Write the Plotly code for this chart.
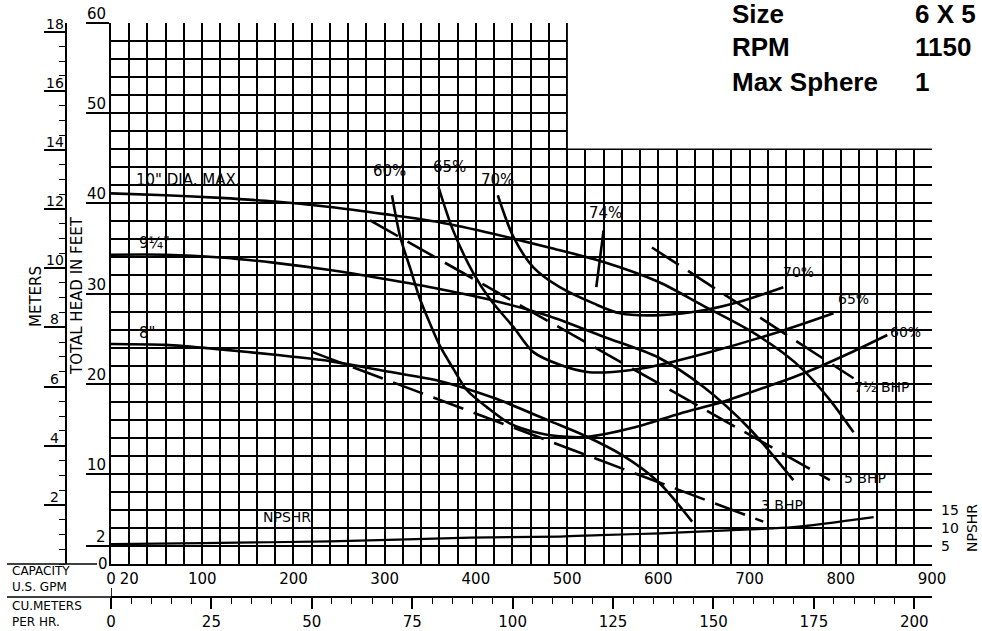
import plotly.graph_objects as go

W, H = 982, 631
FONT = "DejaVu Sans"
HEAD_FONT = "Liberation Sans, Arial"

# head-capacity curves: US GPM vs total head (ft)
gpm_10in = [0, 60, 120, 180, 240, 300, 360, 420, 480, 540, 600, 650, 700, 737, 759, 788, 814]
head_10in = [41.1, 40.9, 40.6, 40.2, 39.6, 38.8, 37.9, 36.6, 35.1, 33.5, 31.3, 28.6, 25.9, 23.4, 21.5, 18.2, 14.6]
gpm_9qin = [0, 60, 120, 180, 240, 300, 360, 420, 480, 540, 600, 650, 700, 748]
head_9qin = [34.3, 34.3, 34.0, 33.4, 32.6, 31.6, 30.5, 29.2, 27.5, 25.2, 22.9, 19.6, 15.0, 9.3]
gpm_8in = [0, 60, 120, 180, 240, 300, 360, 420, 480, 520, 560, 600, 637]
head_8in = [24.4, 24.3, 23.8, 23.2, 22.5, 21.4, 20.3, 18.4, 15.9, 14.2, 12.1, 9.1, 4.7]

# iso-efficiency curves
gpm_e60 = [308, 317, 328, 339, 350, 361, 375, 390, 412, 437, 470, 500, 522, 572, 624, 671, 720, 763, 810, 851]
head_e60 = [40.9, 36.3, 32.8, 29.3, 26.6, 24.1, 21.7, 19.3, 17.4, 15.6, 14.5, 14.1, 14.1, 15.1, 16.7, 18.0, 19.7, 21.3, 23.4, 25.4]
gpm_e65 = [359, 375, 397, 416, 441, 463, 492, 522, 550, 588, 653, 737, 792]
head_e65 = [41.8, 37.0, 32.3, 29.3, 26.3, 23.5, 22.1, 21.3, 21.3, 21.8, 23.4, 25.9, 27.8]
gpm_e70 = [424, 441, 463, 492, 529, 558, 602, 653, 690, 737]
head_e70 = [40.9, 36.3, 32.9, 30.7, 28.9, 27.8, 27.6, 28.2, 29.1, 30.7]
gpm_e74 = [532, 540]
head_e74 = [30.7, 37.0]

# brake horsepower lines (dashed)
gpm_bhp75 = [593, 814]
head_bhp75 = [35.1, 20.6]
gpm_bhp5 = [284, 788]
head_bhp5 = [38.1, 9.3]
gpm_bhp3 = [221, 715]
head_bhp3 = [23.5, 4.7]

# NPSHR (right-hand scale, ft)
gpm_npshr = [0, 100, 240, 394, 492, 536, 602, 638, 700, 748, 836]
npshr = [5.5, 5.8, 6.3, 7.3, 7.6, 8.0, 8.5, 8.9, 9.6, 10.2, 13.0]

# axis ticks
gpm_ticks = [0, 20, 100, 200, 300, 400, 500, 600, 700, 800, 900]
feet_ticks = [2, 10, 20, 30, 40, 50, 60]
meter_ticks = [2, 4, 6, 8, 10, 12, 14, 16, 18]
cum_ticks = [0, 25, 50, 75, 100, 125, 150, 175, 200]
npshr_ticks = [5, 10, 15]

FT_PER_M = 3.28084
GPM_PER_M3H = 4.40287


def px(x):
    return x / W


def py(y):
    return 1 - y / H


fig = go.Figure()


def curve(gpm, head, dash=None, width=2.6, yaxis="y"):
    fig.add_trace(go.Scatter(
        x=gpm, y=head, mode="lines", yaxis=yaxis, hoverinfo="skip", showlegend=False,
        line=dict(color="black", width=width, shape="spline", smoothing=0.8, dash=dash),
    ))


for g, h in [(gpm_10in, head_10in), (gpm_9qin, head_9qin), (gpm_8in, head_8in),
             (gpm_e60, head_e60), (gpm_e65, head_e65), (gpm_e70, head_e70), (gpm_e74, head_e74)]:
    curve(g, h)
for g, h in [(gpm_bhp75, head_bhp75), (gpm_bhp5, head_bhp5), (gpm_bhp3, head_bhp3)]:
    curve(g, h, dash="32px,11px")
curve(gpm_npshr, npshr, width=2.2, yaxis="y2")

# empty helpers so the secondary scales get drawn
fig.add_trace(go.Scatter(x=cum_ticks, y=[0] * len(cum_ticks), xaxis="x2", mode="none", showlegend=False, hoverinfo="skip"))
fig.add_trace(go.Scatter(x=[0], y=meter_ticks[:1], yaxis="y3", mode="none", showlegend=False, hoverinfo="skip"))

ann = []


def note(text, x, y, size=14, xref="x", yref="y", xanchor="left", yanchor="middle", family=FONT, **kw):
    ann.append(dict(text=text, x=x, y=y, xref=xref, yref=yref, xanchor=xanchor, yanchor=yanchor,
                    showarrow=False, font=dict(family=family, size=size, color="black"), **kw))


# curve labels
note('10" DIA. MAX.', 25, 42.6, 15)
note('9¼"', 28, 35.6, 15)
note('8"', 29, 25.6, 15)
note("NPSHR", 164, 5.2, 14)
note("60%", 285, 43.6, 15)
note("65%", 351, 44.0, 15)
note("70%", 403, 42.6, 15)
note("74%", 522, 38.9, 15)
note("70%", 735, 32.4, 14)
note("65%", 795, 29.4, 14)
note("60%", 852, 25.7, 14)
note("7½ BHP", 812, 19.6, 14)
note("5 BHP", 801, 9.5, 14)
note("3 BHP", 710, 6.5, 14)

# left feet labels (sit on their tick lines)
for v in feet_ticks:
    note(str(v), px(108), v, 15, xref="paper", xanchor="right", yanchor="bottom", yshift=-2)
note("0", px(103), 0, 15, xref="paper", xanchor="center")

# meter labels
for v in meter_ticks:
    note(str(v), px(54.5), v, 14, xref="paper", yref="y3", xanchor="center", yanchor="bottom", yshift=-2)

note("METERS", px(36), py(297), 15, xref="paper", yref="paper", xanchor="center", textangle=-90)
note("TOTAL HEAD IN FEET", px(77), py(296), 15, xref="paper", yref="paper", xanchor="center", textangle=-90)
note("NPSHR", px(972), py(528), 14, xref="paper", yref="paper", xanchor="center", textangle=-90)
note("CAPACITY<br>U.S. GPM", px(11), py(579), 12, xref="paper", yref="paper", align="left", borderpad=0)
note("CU.METERS<br>PER HR.", px(11), py(614), 12, xref="paper", yref="paper", align="left", borderpad=0)

# header block
for label, value, y in [("Size", "6 X 5", 14), ("RPM", "1150", 47), ("Max Sphere", "1", 82)]:
    note(f"<b>{label}</b>", px(730), py(y), 26, xref="paper", yref="paper", family=HEAD_FONT)
    note(f"<b>{value}</b>", px(913), py(y), 26, xref="paper", yref="paper", family=HEAD_FONT)

grid = dict(showgrid=True, gridcolor="black", gridwidth=1.5)
line = dict(showline=True, linecolor="black", linewidth=1.7)

fig.update_layout(
    width=W, height=H,
    margin=dict(l=0, r=0, t=0, b=0, autoexpand=False),
    paper_bgcolor="white", plot_bgcolor="white",
    showlegend=False,
    annotations=ann,
    xaxis=dict(
        domain=[px(111), px(932)], range=[0, 900], anchor="y",
        tickmode="array", tickvals=gpm_ticks, ticktext=[str(v) for v in gpm_ticks],
        ticks="", ticklabelstandoff=0,
        tickfont=dict(family=FONT, size=15, color="black"),
        minor=dict(dtick=20, tick0=0, showgrid=True, gridcolor="black", gridwidth=1.5, ticks=""),
        zeroline=False, **grid, **line,
    ),
    yaxis=dict(
        domain=[py(564), py(23)], range=[0, 60], anchor="x",
        tickmode="array", tickvals=feet_ticks, showticklabels=False,
        ticks="outside", ticklen=23, tickwidth=1.5, tickcolor="black",
        minor=dict(dtick=2, tick0=0, showgrid=True, gridcolor="black", gridwidth=1.5, ticks=""),
        zeroline=False, **grid, **line,
    ),
    yaxis2=dict(
        overlaying="y", side="right", anchor="x", range=[0, 150],
        tickmode="array", tickvals=npshr_ticks, ticktext=[str(v) for v in npshr_ticks],
        ticks="", ticklabelstandoff=8, showgrid=False, zeroline=False,
        tickfont=dict(family=FONT, size=14, color="black"),
    ),
    yaxis3=dict(
        overlaying="y", anchor="free", position=px(66), side="left",
        range=[0, 60 / FT_PER_M],
        tickmode="array", tickvals=meter_ticks, showticklabels=False,
        ticks="outside", ticklen=21, tickwidth=1.5, tickcolor="black",
        minor=dict(dtick=0.5, tick0=0, ticks="outside", ticklen=6, tickwidth=1.4, tickcolor="black"),
        showgrid=False, zeroline=False, **line,
    ),
    xaxis2=dict(
        overlaying="x", anchor="free", position=py(597), side="bottom",
        range=[0, 900 / GPM_PER_M3H],
        tickmode="array", tickvals=cum_ticks, ticktext=[str(v) for v in cum_ticks],
        ticks="outside", ticklen=11, tickwidth=1.5, tickcolor="black", ticklabelstandoff=0,
        tickfont=dict(family=FONT, size=15, color="black"),
        minor=dict(dtick=5, tick0=0, ticks="outside", ticklen=6, tickwidth=1.4, tickcolor="black"),
        showgrid=False, zeroline=False, **line,
    ),
)

# blank out the stepped upper-right corner of the grid
fig.add_shape(type="rect", xref="x", yref="y", x0=500.85, x1=910, y0=46.09, y1=62,
              fillcolor="white", line=dict(width=0), layer="between")
# rule extensions at the lower left
fig.add_shape(type="line", xref="paper", yref="paper", x0=px(7), x1=px(97), y0=py(564), y1=py(564),
              line=dict(color="black", width=1.7))
fig.add_shape(type="line", xref="paper", yref="paper", x0=px(7), x1=px(111), y0=py(597), y1=py(597),
              line=dict(color="black", width=1.7))
fig.add_shape(type="line", xref="x2", yref="paper", x0=0, x1=0, y0=py(588), y1=py(605),
              line=dict(color="black", width=1.7))

# the page's default body margin would push the 982x631 figure off the window
fig.write_html("out.html", config={"displayModeBar": False},
               post_script="document.body.style.margin = '0';")
